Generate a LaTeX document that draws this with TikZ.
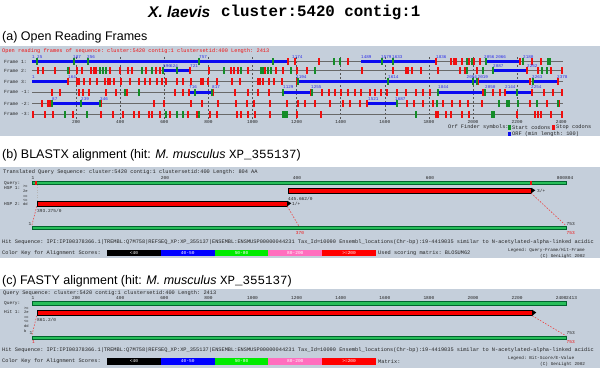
\documentclass[tikz,border=0pt]{standalone}
\usepackage{fontspec}
\setmainfont{Liberation Sans}
\setmonofont{Liberation Mono}
\definecolor{panelbg}{RGB}{197,207,219}
\definecolor{orfblue}{RGB}{10,10,240}
\definecolor{labblue}{RGB}{40,40,235}
\definecolor{stopred}{RGB}{240,15,15}
\definecolor{startgreen}{RGB}{20,140,40}
\definecolor{qfill}{RGB}{40,190,90}
\definecolor{qdraw}{RGB}{0,100,45}
\definecolor{hspred}{RGB}{250,0,0}
\definecolor{dashred}{RGB}{235,70,70}
\definecolor{keypink}{RGB}{255,110,190}
\definecolor{keygreen}{RGB}{0,235,0}
\definecolor{rowgray}{RGB}{105,105,105}
\definecolor{txtdark}{RGB}{35,35,35}
\newcommand\orfticks[3]{\foreach \xx in {#3} {\fill[#2] ({\xx-0.8},{#1-3.3}) rectangle ({\xx+0.8},{#1+3.3});}}
\newcommand\colorkeyrow[2]{%
  \node[txt] (#2lab) at (2,#1) {Color Key for Alignment Scores:};
  \foreach \cc/\kt [count=\kn] in {black/{<40},blue/{40-50},keygreen/{50-80},keypink/{80-200},red/{>=200}}
    {\node[keybox,fill=\cc,name=#2k\kn] at ({107+53.8*(\kn-0.5)},#1) {\kt};}
}
\begin{document}
\begin{tikzpicture}[x=1pt,y=-1pt,
  txt/.style={inner sep=0pt,anchor=west,text=txtdark,font=\ttfamily\fontsize{5.3}{5.3}\selectfont},
  smalltxt/.style={inner sep=0pt,text=txtdark,font=\ttfamily\fontsize{4.5}{4.5}\selectfont},
  orflab/.style={inner sep=0pt,anchor=south west,text=labblue,font=\ttfamily\fontsize{4.3}{4.3}\selectfont},
  sect/.style={inner sep=0pt,anchor=west,font=\fontsize{12.5}{12.5}\selectfont},
  vguide/.style={draw=rowgray!80!black,dash pattern=on 2pt off 2pt,line width=0.6pt},
  rowline/.style={draw=rowgray,line width=0.7pt},
  qbar/.style={draw=qdraw,fill=qfill,line width=0.6pt,inner sep=0pt,minimum height=3.5pt},
  hspbar/.style={draw=black,fill=hspred,line width=0.5pt,inner sep=0pt,minimum height=5pt},
  hspdash/.style={draw=dashred,dash pattern=on 1.5pt off 1.5pt,line width=0.6pt},
  keybox/.style={inner sep=0pt,minimum width=53.8pt,minimum height=6.5pt,text=white,font=\ttfamily\fontsize{4.5}{4.5}\selectfont},
  ]
\useasboundingbox (0,0) rectangle (600,383);
\fill[white] (0,0) rectangle (600,383);
% ---------- title
\node[inner sep=0pt,anchor=west,font=\fontsize{15.5}{15.5}\selectfont\bfseries\itshape] (t1) at (148,12) {X. laevis};
\node[inner sep=0pt,anchor=west,font=\ttfamily\fontsize{15.8}{15.8}\selectfont\bfseries] (t2) at (221,12.5) {cluster:5420 contig:1};
% ---------- (a)
\node[sect] (secta) at (2,37) {(a) Open Reading Frames};
\fill[panelbg] (0,46) rectangle (600,136);
\node[txt,text=stopred] (hdra) at (2,51) {Open reading frames of sequence: cluster:5420 contig:1 clustersetid:400 Length: 2413};
\foreach \p in {200,400,...,2200} \draw[vguide] ({32+0.2205*\p},57) -- ({32+0.2205*\p},119);
\foreach \yy/\lb [count=\rn] in {61.5/1,70.7/2,81.5/3,92.3/-1,103.7/-2,114.3/-3} {
  \node[smalltxt,anchor=west,font=\ttfamily\fontsize{4.7}{4.7}\selectfont,name=fr\rn] at (4,\yy) {Frame \lb:};
  \draw[rowline] (32,\yy) -- (563,\yy);
}
\foreach \p [count=\n] in {200,400,...,2400} \node[smalltxt,name=ax\n] at ({32+0.2205*\p},122.5) {\p};
% ORF bars
\fill[orfblue] (32,59.9) rectangle (288,63.1);
\fill[orfblue] (361,59.9) rectangle (435,63.1);
\fill[orfblue] (486,59.9) rectangle (520,63.1);
\fill[orfblue] (163,69.1) rectangle (190,72.3);
\fill[orfblue] (493,69.1) rectangle (527,72.3);
\fill[orfblue] (32,79.9) rectangle (68,83.1);
\fill[orfblue] (298,79.9) rectangle (530,83.1);
\fill[orfblue] (533,79.9) rectangle (558,83.1);
\fill[orfblue] (189,90.7) rectangle (212,93.9);
\fill[orfblue] (283,90.7) rectangle (311,93.9);
\fill[orfblue] (438,90.7) rectangle (483,93.9);
\fill[orfblue] (505,90.7) rectangle (531,93.9);
\fill[orfblue] (52,102.1) rectangle (101,105.3);
\fill[orfblue] (368,102.1) rectangle (397,105.3);
% ticks
\orfticks{61.5}{stopred}{288,295,319,348,436,451,454,456,462,469,474,480,520,532,541}
\orfticks{61.5}{startgreen}{37,74,88,199,273,334,340,382,393,467,472,486,523,548,550}
\orfticks{70.7}{stopred}{38,43,55,69,77,82,91,94,96,110,120,128,132,146,156,160,190,209,231,234,238,248,265,276,283,297,307,362,393,406,408,412,421,438,460,465,477,527,538,551,562}
\orfticks{70.7}{startgreen}{68,100,103,106,142,152,163,177,224,241,261,263,268,271,291,315,467,483,493,542,547}
\orfticks{81.5}{stopred}{68,77,79,84,90,97,105,108,110,114,121,130,139,145,150,157,162,166,177,183,191,201,203,208,217,232,240,258,260,263,269,274,282,297,478,530,558}
\orfticks{81.5}{startgreen}{298,388,473,477,533}
\orfticks{92.3}{stopred}{52,60,79,83,89,106,116,127,175,183,189,213,235,248,258,269,311,322,329,335,341,348,355,361,370,375,381,387,397,406,416,423,430,483,493,500,505,532,544,553,562}
\orfticks{92.3}{startgreen}{125,139,195,212,283,312,438,485,517}
\orfticks{103.7}{stopred}{42,48,50,101,154,164,191,202,218,236,247,254,270,287,298,305,315,330,343,350,360,367,407,414,423,433,443,452,460,468,482,530,547,559}
\orfticks{103.7}{startgreen}{52,81,100,397,437,499,507,509,518,537,558}
\orfticks{114.3}{stopred}{33,45,53,73,101,113,123,134,139,149,152,160,170,188,197,210,217,237,241,248,255,270,297,321,436,438,446,451,462,469,517,535,538,541,551,562}
\orfticks{114.3}{startgreen}{65,87,166,177,183,199,283,285,287,416,492,494}
% ORF labels
\foreach \xx/\lbl [count=\n] in {32/1,37/25,73/187,87/256,199/757,292/1174,361/1489,381/1579,392/1633,436/1836,484/2056,495.5/2066,523/2180}
  \node[orflab,name=la\n] at (\xx,58.3) {\lbl};
\foreach \xx/\lbl [count=\n] in {163/596,170/624,190/721,493/2087,527/2252}
  \node[orflab,name=lb\n] at (\xx,67.5) {\lbl};
\foreach \xx/\lbl [count=\n] in {32/1,68/164,296/1194,388/1614,466.5/2004,477.5/2019,532/2263,557/2378}
  \node[orflab,name=lc\n] at (\xx,78.3) {\lbl};
\foreach \xx/\lbl [count=\n] in {189/716,212/817,283/1129,311/1255,438/1844,485/2050,505/2144,531/2254}
  \node[orflab,name=ld\n] at (\xx,89.1) {\lbl};
\foreach \xx/\lbl [count=\n] in {52/87,81/239,100/346,368/1521,395/1687}
  \node[orflab,name=le\n] at (\xx,100.5) {\lbl};
% legend (a)
\node[txt] (orfleg) at (448,127.5) {Orf Finder symbols:};
\fill[startgreen] (508,125.3) rectangle (511,129.7);
\node[txt] (legstart) at (512,127.5) {Start codons};
\fill[stopred] (552,125.3) rectangle (555,129.7);
\node[txt] (legstop) at (556,127.5) {Stop codons};
\fill[orfblue] (508,132) rectangle (511,136);
\node[txt] (legorf) at (512,134) {ORF (min length: 100)};
% ---------- (b)
\node[sect] (sectb) at (2,155) {(b) BLASTX alignment (hit: \textit{M. musculus} {\ttfamily XP\_355137})};
\fill[panelbg] (0,167) rectangle (600,258);
\node[txt] (hdrb) at (3,172) {Translated Query Sequence: cluster:5420 contig:1 clustersetid:400 Length: 804 AA};
\node[smalltxt,anchor=west] (qlabb) at (4,183) {Query:};
\node[smalltxt,anchor=west] (h1lab) at (4,188) {HSP 1:};
\node[smalltxt,anchor=west] (h2lab) at (4,204) {HSP 2:};
\foreach \yy/\lbl [count=\n] in {186.5/>c,191.5/2e,196.5/=c,200.5/<c,204.5/dd}
  \node[smalltxt,anchor=west,font=\ttfamily\fontsize{3.8}{3.8}\selectfont,name=fb\n] at (23,\yy) {\lbl};
\node[qbar,minimum width=534pt] (qbarB) at (299,183) {};
\foreach \xx/\lbl [count=\n] in {33/1,165/200,297/400,430/600,561/800}
  \node[smalltxt,name=qtb\n] at (\xx,178.3) {\lbl};
\node[smalltxt,anchor=west] (qtb6) at (565,178.3) {804};
\fill[stopred] (35.4,181) rectangle (36.6,185);
\fill[stopred] (530.4,181) rectangle (531.6,185);
\node[hspbar,minimum width=243pt] (hsp1) at (409.5,190.5) {};
\node[hspbar,minimum width=250pt] (hsp2) at (162,203.5) {};
\fill[black] (hsp1.north east) -- ++(4,2.5) -- (hsp1.south east) -- cycle;
\fill[black] (hsp2.north east) -- ++(4,2.5) -- (hsp2.south east) -- cycle;
\draw[draw=rowgray!50,dash pattern=on 1pt off 1.5pt,line width=0.4pt] (hsp2.north west) -- (hsp2.north west |- qbarB.south);
\node[smalltxt,anchor=west] (s1) at (288,198.5) {445.662/0};
\node[smalltxt,anchor=west] (f1) at (537,190.5) {3/+};
\node[smalltxt,anchor=west] (s2) at (37,210.5) {393.275/0};
\node[smalltxt,anchor=west] (f2) at (292,203.5) {1/+};
\node[qbar,minimum width=534pt] (hitB) at (299,228) {};
\coordinate (b370) at (299,226.3);
\draw[hspdash] (hsp2.south west) -- (hitB.north west);
\draw[hspdash] (hsp2.south east) -- (b370);
\draw[hspdash] (hsp1.south east) -- (hitB.north east);
\node[smalltxt] (hb1) at (30,224) {1};
\node[smalltxt,text=stopred] (hb370) at (300,233.5) {370};
\node[smalltxt,anchor=west] (hb753) at (566.5,224) {753};
\node[smalltxt,anchor=west,text=stopred] (hb753r) at (566.5,233.5) {753};
\node[txt] (hitseqb) at (2,242) {Hit Sequence: IPI:IPI00378366.1|TREMBL:Q7M758|REFSEQ\_XP:XP\_355137|ENSEMBL:ENSMUSP00000044231 Tax\_Id=10090 Ensembl\_locations(Chr-bp):19-4419035 similar to N-acetylated-alpha-linked acidic};
\colorkeyrow{253.2}{kb}
\node[txt] (matb) at (378,253.2) {Used scoring matrix: BLOSUM62};
\node[smalltxt,anchor=west,font=\ttfamily\fontsize{4.4}{4.4}\selectfont] (legb) at (508,250.3) {Legend: Query-Frame/Hit-Frame};
\node[smalltxt,anchor=west,font=\ttfamily\fontsize{4.4}{4.4}\selectfont] (copyb) at (540,256) {(C) GenLight 2002};
% ---------- (c)
\node[sect] (sectc) at (2,281) {(c) FASTY alignment (hit: \textit{M. musculus} {\ttfamily XP\_355137})};
\fill[panelbg] (0,289) rectangle (600,368);
\node[txt] (hdrc) at (3,293.5) {Query Sequence: cluster:5420 contig:1 clustersetid:400 Length: 2413};
\node[smalltxt,anchor=west] (qlabc) at (4,303.3) {Query:};
\node[smalltxt,anchor=west] (hlabc) at (4,312) {Hit 1:};
\foreach \yy/\lbl [count=\n] in {308/>c,312.5/2e,317/=c,321.5/<c,326.5/dd,331.5/b}
  \node[smalltxt,anchor=west,font=\ttfamily\fontsize{3.8}{3.8}\selectfont,name=fc\n] at (24,\yy) {\lbl};
\node[qbar,minimum width=534pt] (qbarC) at (299,303.3) {};
\node[smalltxt] (qtc0) at (33,298.3) {1};
\foreach \p [count=\n] in {200,400,...,2400} \node[smalltxt,name=qtc\n] at ({32+0.2205*\p},298.3) {\p};
\node[smalltxt,anchor=west] (qtc13) at (566,298.3) {2413};
\node[hspbar,minimum width=495pt,minimum height=5.5pt] (hit1) at (284.5,312.75) {};
\fill[black] (hit1.north east) -- ++(4,2.75) -- (hit1.south east) -- cycle;
\node[smalltxt,anchor=west] (s3) at (37,319.5) {861.2/0};
\node[qbar,minimum width=534pt] (hitC) at (299,338) {};
\draw[hspdash] (hit1.south west) -- (hitC.north west);
\draw[hspdash] (hit1.south east) -- (hitC.north east);
\node[smalltxt] (hc1) at (31,333.3) {1};
\node[smalltxt,text=stopred] (hc1r) at (33.5,342.5) {1};
\node[smalltxt,anchor=west] (hc753) at (566.5,333.3) {753};
\node[smalltxt,anchor=west,text=stopred] (hc753r) at (566.5,342) {753};
\node[txt] (hitseqc) at (2,350.3) {Hit Sequence: IPI:IPI00378366.1|TREMBL:Q7M758|REFSEQ\_XP:XP\_355137|ENSEMBL:ENSMUSP00000044231 Tax\_Id=10090 Ensembl\_locations(Chr-bp):19-4419035 similar to N-acetylated-alpha-linked acidic};
\colorkeyrow{361.3}{kc}
\node[txt] (matc) at (378,361.3) {Matrix:};
\node[smalltxt,anchor=west,font=\ttfamily\fontsize{4.4}{4.4}\selectfont] (legc) at (508,358.3) {Legend: Bit-Score/E-Value};
\node[smalltxt,anchor=west,font=\ttfamily\fontsize{4.4}{4.4}\selectfont] (copyc) at (540,364.5) {(C) GenLight 2002};
\end{tikzpicture}
\end{document}
